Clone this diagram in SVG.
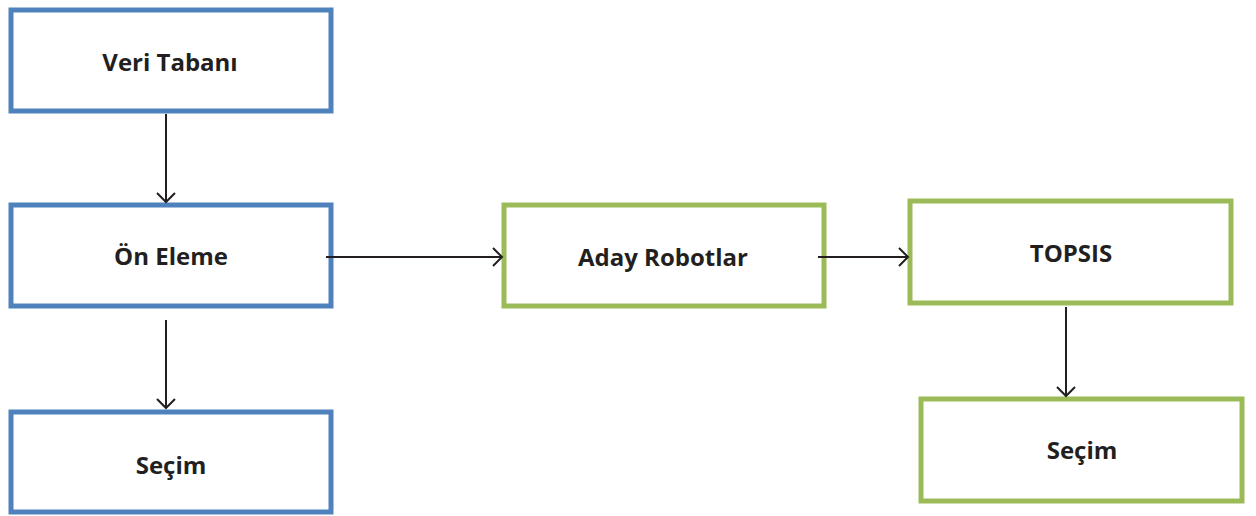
<svg xmlns="http://www.w3.org/2000/svg" width="1256" height="516" viewBox="0 0 1256 516">
<defs>
<style>
.blue{fill:#fff;stroke:#4F81BD;stroke-width:5}
.green{fill:#fff;stroke:#9BBB59;stroke-width:5}
.lbl{font-family:"Open Sans","Liberation Sans",sans-serif;font-weight:bold;font-size:24px;fill:#231F20;text-anchor:middle}
.edge{stroke:#231F20;stroke-width:2;fill:none;marker-end:url(#arr)}
</style>
<marker id="arr" markerWidth="20" markerHeight="20" refX="18" refY="10" orient="auto" markerUnits="userSpaceOnUse">
<path d="M9,1 L18,10 L9,19" fill="none" stroke="#231F20" stroke-width="2"/>
</marker>
</defs>
<rect width="1256" height="516" fill="#fff"/>
<g id="veri-tabani"><rect class="blue" x="11" y="10" width="320" height="101"/><text class="lbl" x="170" y="71">Veri Tabanı</text></g>
<g id="on-eleme"><rect class="blue" x="11" y="205" width="320" height="101"/><text class="lbl" x="171" y="265">Ön Eleme</text></g>
<g id="secim-left"><rect class="blue" x="11" y="412" width="320" height="100"/><text class="lbl" x="171" y="474">Seçim</text></g>
<g id="aday-robotlar"><rect class="green" x="504" y="205" width="320" height="101"/><text class="lbl" x="663" y="266">Aday Robotlar</text></g>
<g id="topsis"><rect class="green" x="910" y="201" width="321" height="102"/><text class="lbl" x="1071" y="262">TOPSIS</text></g>
<g id="secim-right"><rect class="green" x="921" y="399" width="321" height="102"/><text class="lbl" x="1082" y="459">Seçim</text></g>
<g id="connectors">
<line class="edge" x1="166" y1="114" x2="166" y2="202"/>
<line class="edge" x1="166" y1="320" x2="166" y2="408"/>
<line class="edge" x1="326" y1="257" x2="502" y2="257"/>
<line class="edge" x1="818" y1="257" x2="908" y2="257"/>
<line class="edge" x1="1066" y1="307" x2="1066" y2="396"/>
</g>
</svg>
